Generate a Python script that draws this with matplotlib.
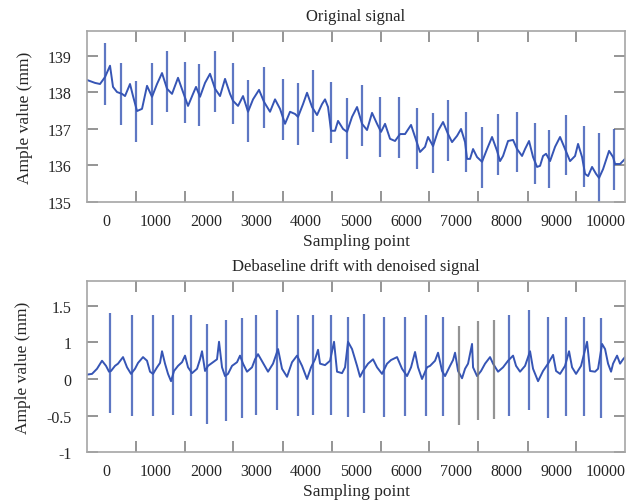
import matplotlib
matplotlib.use('Agg')
import matplotlib.pyplot as plt

plt.rcParams['font.family'] = ['Liberation Serif', 'DejaVu Serif']

# ---- original signal (top) ----
top_wave_x = [-380, -220, -120, -20, 80, 140, 220, 320, 380, 480, 540, 620, 720, 820, 920, 1020,
              1120, 1220, 1320, 1440, 1540, 1640, 1740, 1800, 1880, 1980, 2080, 2180, 2280, 2380,
              2480, 2540, 2640, 2740, 2840, 2940, 3060, 3160, 3280, 3380, 3480, 3580, 3680, 3780,
              3840, 3940, 4020, 4120, 4220, 4320, 4380, 4440, 4500, 4580, 4640, 4740, 4820, 4920,
              5020, 5120, 5220, 5320, 5420, 5500, 5580, 5680, 5780, 5880, 5980, 6100, 6180, 6280,
              6380, 6440, 6540, 6640, 6740, 6840, 6920, 7020, 7100, 7180, 7220, 7280, 7340, 7420,
              7520, 7620, 7720, 7820, 7880, 7940, 8040, 8140, 8220, 8320, 8380, 8460, 8540, 8620,
              8680, 8740, 8800, 8880, 8980, 9080, 9180, 9280, 9380, 9440, 9520, 9580, 9640, 9720,
              9800, 9860, 9940, 10060, 10140, 10180, 10280, 10380]
top_wave_y = [138.34, 138.26, 138.23, 138.42, 138.73, 138.15, 138.01, 137.96, 137.90, 138.23,
              137.90, 137.49, 137.55, 138.18, 137.88, 138.23, 138.53, 138.10, 137.96, 138.40,
              138.01, 137.63, 137.96, 138.15, 137.88, 138.26, 138.51, 138.10, 137.90, 138.37,
              137.96, 137.77, 137.63, 137.90, 137.47, 137.81, 138.07, 137.74, 137.47, 137.81,
              137.55, 137.14, 137.47, 137.41, 137.33, 137.68, 137.99, 137.60, 137.38, 137.68,
              137.81, 137.60, 136.95, 136.95, 137.22, 137.00, 136.92, 137.33, 137.60, 137.14,
              136.97, 137.44, 137.14, 136.92, 137.14, 136.73, 136.67, 136.86, 136.86, 137.11,
              136.78, 136.37, 136.51, 136.78, 136.53, 136.95, 137.19, 136.86, 136.64, 136.81,
              137.00, 136.64, 136.18, 136.18, 136.45, 136.23, 136.10, 136.45, 136.78, 136.40,
              136.12, 136.26, 136.67, 136.70, 136.45, 136.26, 136.45, 136.67, 136.23, 135.96,
              135.99, 136.26, 136.32, 136.12, 136.51, 136.78, 136.45, 136.12, 136.26, 136.59,
              136.23, 135.77, 135.71, 135.96, 135.77, 135.66, 135.90, 136.40, 136.23, 136.04,
              136.04, 136.18]
top_spike_x = [-20, 300, 600, 920, 1220, 1580, 1860, 2180, 2540, 2840, 3160, 3540, 3840, 4140,
               4500, 4820, 5120, 5480, 5860, 6220, 6540, 6840, 7200, 7520, 7840, 8220, 8580,
               8860, 9200, 9560, 9860, 10160]
top_spike_hi = [139.35, 138.80, 138.30, 138.80, 139.14, 138.84, 138.78, 139.13, 138.80, 138.34,
                138.70, 138.37, 138.25, 138.60, 138.29, 137.85, 138.20, 137.88, 137.88, 137.58,
                137.44, 137.79, 137.47, 137.05, 137.41, 137.47, 137.16, 136.97, 137.38, 137.08,
                136.89, 137.00]
top_spike_lo = [137.66, 137.10, 136.64, 137.10, 137.47, 137.16, 137.08, 137.47, 137.14, 136.65,
                137.02, 136.70, 136.56, 136.92, 136.62, 136.18, 136.53, 136.23, 136.20, 135.90,
                135.79, 136.12, 135.82, 135.38, 135.74, 135.82, 135.49, 135.38, 135.74, 135.41,
                135.00, 135.33]
top_yticks = [135, 136, 137, 138, 139]
top_yticklabels = ['135', '136', '137', '138', '139']

# ---- debaselined, denoised signal (bottom) ----
bot_wave_x = [-380, -280, -180, -80, 0, 60, 100, 180, 240, 340, 420, 500, 580, 640, 740, 820, 880,
              940, 1020, 1080, 1120, 1180, 1240, 1300, 1360, 1440, 1520, 1580, 1640, 1720, 1820,
              1880, 1920, 1980, 2040, 2120, 2220, 2260, 2320, 2380, 2440, 2520, 2620, 2680, 2740,
              2820, 2920, 2980, 3040, 3140, 3240, 3340, 3440, 3520, 3620, 3720, 3820, 3920, 4020,
              4100, 4180, 4240, 4280, 4380, 4480, 4560, 4620, 4720, 4780, 4840, 4920, 5020, 5080,
              5140, 5240, 5340, 5420, 5520, 5620, 5700, 5820, 5920, 6020, 6100, 6180, 6240, 6320,
              6420, 6480, 6580, 6640, 6720, 6780, 6880, 6940, 6980, 7040, 7120, 7180, 7240, 7320,
              7340, 7420, 7500, 7580, 7680, 7740, 7840, 7940, 8040, 8140, 8200, 8280, 8380, 8480,
              8540, 8640, 8740, 8840, 8940, 9000, 9080, 9180, 9260, 9320, 9400, 9500, 9620, 9680,
              9780, 9840, 9920, 9980, 10040, 10100, 10140, 10220, 10280, 10340, 10380]
bot_wave_y = [0.06, 0.07, 0.14, 0.25, 0.18, 0.10, 0.11, 0.18, 0.21, 0.30, 0.16, 0.07, 0.14, 0.22,
              0.30, 0.25, 0.10, 0.07, 0.16, 0.22, 0.38, 0.21, 0.07, -0.03, 0.11, 0.18, 0.23, 0.32,
              0.16, 0.08, 0.14, 0.27, 0.38, 0.11, 0.18, 0.22, 0.27, 0.51, 0.16, 0.04, 0.07, 0.18,
              0.23, 0.32, 0.21, 0.10, 0.16, 0.27, 0.34, 0.22, 0.10, 0.21, 0.41, 0.14, 0.03, 0.23,
              0.32, 0.18, 0.00, 0.16, 0.27, 0.40, 0.21, 0.19, 0.25, 0.51, 0.10, 0.08, 0.16, 0.51,
              0.41, 0.18, 0.03, 0.11, 0.21, 0.27, 0.16, 0.07, 0.21, 0.26, 0.30, 0.14, 0.04, 0.16,
              0.37, 0.16, 0.00, 0.16, 0.18, 0.25, 0.36, 0.11, 0.04, 0.18, 0.26, 0.36, 0.11, 0.01,
              0.14, 0.21, 0.48, 0.16, 0.04, 0.11, 0.21, 0.30, 0.21, 0.10, 0.16, 0.25, 0.32, 0.18,
              0.10, 0.18, 0.38, 0.14, -0.03, 0.11, 0.21, 0.33, 0.11, 0.07, 0.18, 0.38, 0.16, 0.07,
              0.18, 0.51, 0.11, 0.10, 0.14, 0.48, 0.41, 0.21, 0.10, 0.21, 0.32, 0.21, 0.27, 0.30]
bot_spike_x = [80, 520, 940, 1340, 1700, 2020, 2400, 2720, 3000, 3420, 3840, 4140, 4500, 4840,
               5160, 5560, 5980, 6400, 6740, 7060, 7440, 7760, 8060, 8460, 8840, 9200, 9560, 9900]
bot_spike_hi = [0.91, 0.87, 0.87, 0.88, 0.87, 0.75, 0.81, 0.84, 0.88, 0.95, 0.87, 0.87, 0.88, 0.85,
                0.89, 0.85, 0.85, 0.87, 0.85, 0.73, 0.80, 0.81, 0.87, 0.94, 0.85, 0.85, 0.85, 0.84]
bot_spike_lo = [-0.47, -0.50, -0.50, -0.49, -0.50, -0.62, -0.57, -0.54, -0.49, -0.42, -0.50, -0.49,
                -0.49, -0.52, -0.47, -0.52, -0.51, -0.50, -0.50, -0.63, -0.56, -0.55, -0.50, -0.43,
                -0.53, -0.50, -0.50, -0.54]
bot_gray_spikes = [19, 20, 21]
bot_yticks = [-1.0, -0.5, 0.0, 0.5, 1.0]
bot_yticklabels = ['-1', '-0.5', '0', '1', '1.5']   # as printed on the source figure

x_labels = [0, 1000, 2000, 3000, 4000, 5000, 6000, 7000, 8000, 9000, 10000]
x_tickmarks = [600, 1580, 2540, 3540, 4520, 5500, 6460, 7440, 8440, 9400]

BLUE = '#3655b5'
GRAY = '#7a7a7a'
SPINE = '#a6a6a6'
TEXT = '#262626'


def style_axis(ax, yticks, yticklabels, ylim, title):
    ax.set_xlim(-380, 10380)
    ax.set_ylim(*ylim)
    ax.set_xticks(x_labels)
    ax.set_xticklabels([str(v) for v in x_labels])
    ax.set_xticks(x_tickmarks, minor=True)
    ax.set_yticks(yticks)
    ax.set_yticklabels(yticklabels)
    ax.tick_params(axis='x', which='major', length=0, pad=8, labelsize=11.5, colors=TEXT)
    ax.tick_params(axis='x', which='minor', direction='in', length=8, width=1.3,
                   color='#8c8c8c', top=True, bottom=True)
    ax.tick_params(axis='y', which='major', direction='in', length=8, width=1.3,
                   color='#8c8c8c', left=True, right=True, pad=11, labelsize=11.5,
                   labelcolor=TEXT)
    for s in ax.spines.values():
        s.set_color(SPINE)
        s.set_linewidth(1.2)
    ax.set_title(title, fontsize=12, color=TEXT, pad=8)
    ax.set_xlabel('Sampling point', fontsize=12.5, color=TEXT, labelpad=3)
    ax.set_ylabel('Ample value (mm)', fontsize=12.5, color=TEXT, labelpad=11)


fig = plt.figure(figsize=(6.26, 5.02), dpi=100)
ax1 = fig.add_axes([0.139, 0.5956, 0.8595, 0.3406])
ax2 = fig.add_axes([0.139, 0.0976, 0.8595, 0.3406])

ax1.plot(top_wave_x, top_wave_y, color=BLUE, lw=1.4, solid_joinstyle='round')
ax1.vlines(top_spike_x, top_spike_lo, top_spike_hi, color=BLUE, lw=1.6, alpha=0.8)
style_axis(ax1, top_yticks, top_yticklabels, (135, 139.68), 'Original signal')

spike_colors = [GRAY if i in bot_gray_spikes else BLUE for i in range(len(bot_spike_x))]
ax2.plot(bot_wave_x, bot_wave_y, color=BLUE, lw=1.4, solid_joinstyle='round')
ax2.vlines(bot_spike_x, bot_spike_lo, bot_spike_hi, colors=spike_colors, lw=1.6, alpha=0.8)
style_axis(ax2, bot_yticks, bot_yticklabels, (-1.0, 1.342), 'Debaseline drift with denoised signal')

fig.savefig('out.png', dpi=100)
